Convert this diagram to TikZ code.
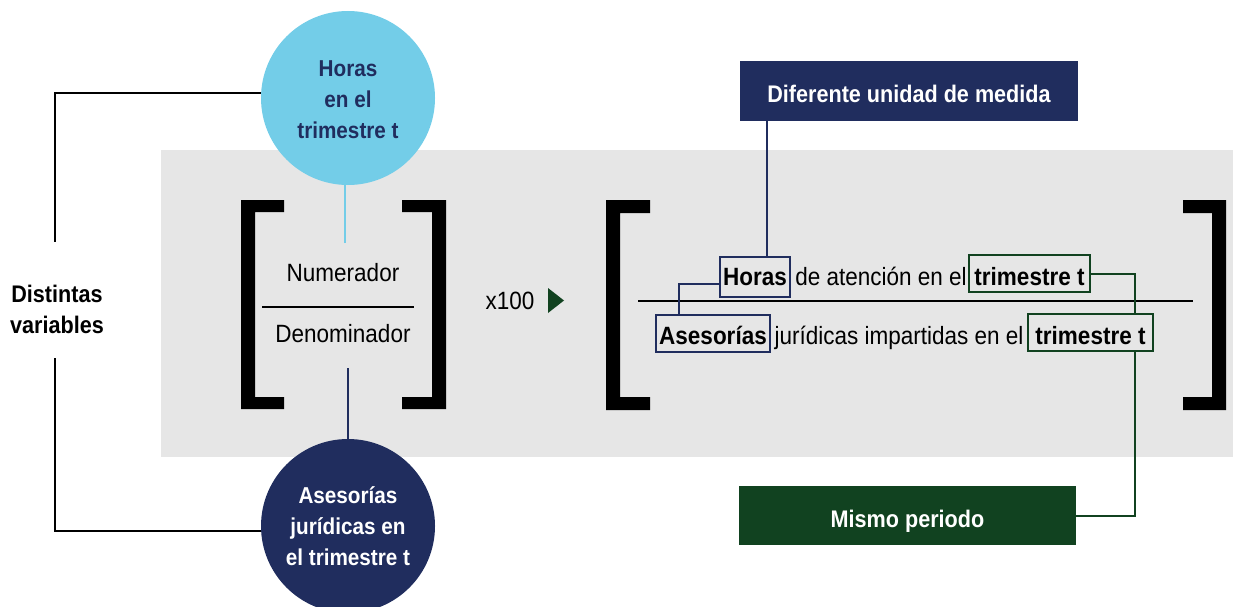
\documentclass[tikz,border=0pt]{standalone}
\usepackage{fontspec}
\setmainfont{Liberation Sans}[FakeStretch=0.9]
\usetikzlibrary{calc}
\definecolor{lblue}{RGB}{115,205,232}
\definecolor{navy}{RGB}{32,45,94}
\definecolor{dgreen}{RGB}{17,66,32}
\definecolor{bggray}{RGB}{230,230,230}
\newcommand{\lowerby}[2]{\raisebox{-#1}[\height][\depth]{#2}}
\tikzset{
  conn/.style={line width=2pt, black},
  navyline/.style={line width=2pt, navy},
  greenline/.style={line width=2pt, dgreen},
  bigcirc/.style={circle, minimum size=174pt, inner sep=0pt, align=center, font=\fontsize{23}{31}\selectfont\bfseries},
  labelbox/.style={rectangle, inner sep=0pt, font=\fontsize{24}{28}\selectfont\bfseries, text=white},
  navybox/.style={rectangle, draw=navy, line width=2.2pt, inner sep=0pt},
  greenbox/.style={rectangle, draw=dgreen, line width=2.2pt, inner sep=0pt},
  ftext/.style={inner sep=0pt, anchor=base, font=\fontsize{25}{30}\selectfont},
  fbold/.style={ftext, font=\fontsize{25}{30}\selectfont\bfseries},
  bracket/.style={fill=black, draw=none},
}
\begin{document}
\begin{tikzpicture}[x=1pt,y=-1pt]
\useasboundingbox (0,0) rectangle (1233,607);
\clip (0,0) rectangle (1233,607);
% gray band
\fill[bggray] (161,150) rectangle (1233,457);
% circles
\node[bigcirc, fill=lblue, text=navy] (hc) at (348,98) {\lowerby{2pt}{\parbox{150pt}{\centering Horas\\en el\\trimestre t}}};
\node[bigcirc, fill=navy, text=white] (ac) at (348,526) {Asesorías\\jurídicas en\\el trimestre t};
% Distintas variables
\node[inner sep=0pt, align=center, font=\fontsize{24}{31}\selectfont\bfseries] (dv) at (57,309) {Distintas\\variables};
\coordinate (dvt) at (55,242);
\coordinate (dvb) at (55,358);
\draw[conn] (hc.177) -| (dvt);
\draw[conn] (ac.183) -| (dvb);
% small brackets
\fill[bracket] (241,200) -- (284,200) -- (284,212) -- (255,212) -- (255,397) -- (284,397) -- (284,409) -- (241,409) -- cycle;
\fill[bracket] (446,200) -- (402,200) -- (402,212) -- (432,212) -- (432,397) -- (402,397) -- (402,409) -- (446,409) -- cycle;
\node[ftext] (num) at (343,281) {Numerador};
\node[ftext] (den) at (343,342) {Denominador};
\draw[line width=2.5pt] (262,307) -- (414,307);
\coordinate (nt) at (345,243);
\coordinate (dt) at (348,368);
\draw[line width=2pt, lblue] (nt) -- (nt |- hc.south);
\draw[navyline] (dt) -- (dt |- ac.north);
% x100 arrow
\node[ftext] (x) at (510,309) {x100};
\fill[dgreen] (548,288) -- (564,300.5) -- (548,313) -- cycle;
% big brackets
\fill[bracket] (606,200) -- (650,200) -- (650,213) -- (620,213) -- (620,397) -- (650,397) -- (650,410) -- (606,410) -- cycle;
\fill[bracket] (1226,200) -- (1183,200) -- (1183,213) -- (1212,213) -- (1212,397) -- (1183,397) -- (1183,410) -- (1226,410) -- cycle;
\draw[line width=2.5pt] (638,301) -- (1193,301);
% boxes
\node[navybox, minimum width=70pt, minimum height=40pt] (hb) at (755,277) {};
\node[greenbox, minimum width=121pt, minimum height=37pt] (tb1) at (1029.5,273.5) {};
\node[navybox, minimum width=114pt, minimum height=37pt] (ab) at (713,333.5) {};
\node[greenbox, minimum width=125pt, minimum height=37pt] (tb2) at (1090.5,332.5) {};
% texts
\node[fbold] (t1a) at (755,285) {Horas};
\node[ftext] (t1b) at (881,285) {de atención en el};
\node[fbold] (t1c) at (1029.5,285) {trimestre t};
\node[fbold] (t2a) at (713,344) {Asesorías};
\node[ftext] (t2b) at (899,344) {jurídicas impartidas en el};
\node[fbold] (t2c) at (1090.5,344) {trimestre t};
% label boxes
\node[labelbox, fill=navy, minimum width=338pt, minimum height=60pt] (dif) at (909,91) {\lowerby{3pt}{Diferente unidad de medida}};
\node[labelbox, fill=dgreen, minimum width=337pt, minimum height=59pt] (mis) at (907.5,515.5) {\lowerby{5.5pt}{Mismo periodo}};
% connectors
\coordinate (d1) at (767,121);
\draw[navyline] (d1) -- (d1 |- hb.north);
\draw[navyline] ($(hb.west)+(0,7)$) -| ($(ab.north west)+(24,0)$);
\draw[greenline] (tb1.east) -| ($(tb2.north east)+(-19,0)$);
\draw[greenline] ($(tb2.south east)+(-19,0)$) |- (mis.east);
\end{tikzpicture}
\end{document}
